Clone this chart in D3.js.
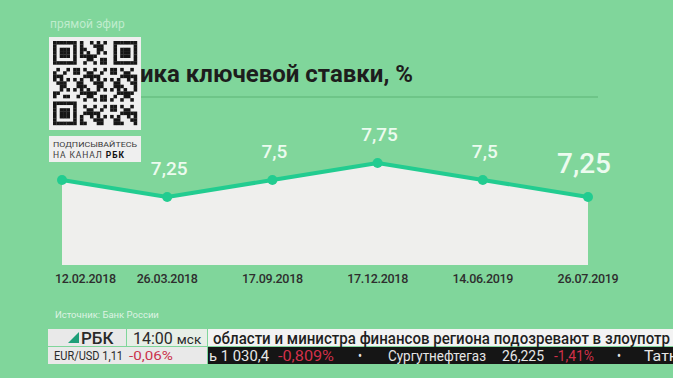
<!DOCTYPE html>
<html>
<head>
<meta charset="utf-8">
<script src="https://cdn.jsdelivr.net/npm/d3@7"></script>
<style>
  html, body { margin: 0; padding: 0; background: #80d69b; }
  svg { display: block; font-family: Roboto, "Noto Sans", sans-serif; }
</style>
</head>
<body>
<div id="chart"></div>
<script>
// --- Data ---
const dates = ["12.02.2018", "26.03.2018", "17.09.2018", "17.12.2018", "14.06.2019", "26.07.2019"];
const rates = [7.5, 7.25, 7.5, 7.75, 7.5, 7.25];
const rateLabels = ["7,5", "7,25", "7,5", "7,75", "7,5", "7,25"];

const title = "Динамика ключевой ставки, %";
const source = "Источник: Банк России";

// ticker strip (bottom of the broadcast frame)
const headline = "области и министра финансов региона подозревают в злоупотр";
const tickerItems = [
    { text: "ь 1 030,4", x: 209, w: 60, red: false },
    { text: "-0,809%", x: 278, w: 56, red: true },
    { text: "•", x: 358, w: 4, red: false },
    { text: "Сургутнефтегаз", x: 388, w: 98, red: false },
    { text: "26,225", x: 502, w: 42, red: false },
    { text: "-1,41%", x: 554, w: 40, red: true },
    { text: "•", x: 617, w: 4, red: false },
    { text: "Татн", x: 644, w: 34, red: false }
];

const width = 673, height = 378;
const bg = "#80d69b";

const svg = d3.select("#chart").append("svg")
    .attr("width", width)
    .attr("height", height);

svg.append("rect").attr("width", width).attr("height", height).attr("fill", bg);

// --- Scales ---
const x = d3.scalePoint().domain(dates).range([62, 588]);
const y = d3.scaleLinear().domain([7.25, 7.75]).range([197, 163]);
const baseY = 265;

// header
svg.append("text")
    .attr("x", 50).attr("y", 28)
    .attr("font-size", 12)
    .attr("fill", "#bfeccd")
    .text("прямой эфир");

svg.append("text")
    .attr("x", 413).attr("y", 82)
    .attr("text-anchor", "end")
    .attr("font-size", 24)
    .attr("font-weight", 700)
    .attr("fill", "#1d1d1d")
    .text(title);

svg.append("line")
    .attr("x1", 55).attr("x2", 598)
    .attr("y1", 97).attr("y2", 97)
    .attr("stroke", "#68bf82")
    .attr("stroke-width", 1.5);

// --- Area + line ---
const pts = dates.map((d, i) => ({ date: d, v: rates[i], label: rateLabels[i] }));

const area = d3.area()
    .x(d => x(d.date))
    .y0(baseY)
    .y1(d => y(d.v));

svg.append("path")
    .datum(pts)
    .attr("d", area)
    .attr("fill", "#efefed");

const line = d3.line()
    .x(d => x(d.date))
    .y(d => y(d.v));

svg.append("path")
    .datum(pts)
    .attr("d", line)
    .attr("fill", "none")
    .attr("stroke", "#22cc90")
    .attr("stroke-width", 4)
    .attr("stroke-linejoin", "round");

svg.selectAll(".dot")
    .data(pts)
    .enter().append("circle")
    .attr("class", "dot")
    .attr("cx", d => x(d.date))
    .attr("cy", d => y(d.v))
    .attr("r", 5)
    .attr("fill", "#22cc90");

// value labels (last one emphasized); the first sits under the QR card, so skip it
const last = pts.length - 1;
svg.selectAll(".val")
    .data(pts.slice(1))
    .enter().append("text")
    .attr("class", "val")
    .attr("x", (d, i) => x(d.date) + (i + 1 === last ? -4 : 2))
    .attr("y", (d, i) => y(d.v) - (i + 1 === last ? 24 : 22))
    .attr("text-anchor", "middle")
    .attr("font-size", (d, i) => i + 1 === last ? 28 : 19)
    .attr("font-weight", 500)
    .attr("fill", "#ecfbef")
    .text(d => d.label);

// date labels
svg.selectAll(".date")
    .data(dates)
    .enter().append("text")
    .attr("class", "date")
    .attr("x", (d, i) => i === 0 ? x(d) - 7 : x(d))
    .attr("y", 283)
    .attr("text-anchor", (d, i) => i === 0 ? "start" : "middle")
    .attr("font-size", 12.5)
    .attr("font-weight", 500)
    .attr("letter-spacing", -0.3)
    .attr("fill", "#2e2e2e")
    .text(d => d);

svg.append("text")
    .attr("x", 55).attr("y", 318)
    .attr("font-size", 9.5)
    .attr("fill", "#def3e3")
    .text(source);

// --- QR overlay ---
const qr = svg.append("g");
qr.append("rect").attr("x", 49).attr("y", 37).attr("width", 92).attr("height", 93).attr("fill", "#efefef");
const n = 25, m = 3.36, ox = 53, oy = 41;
function finder(r, c) {
    const inF = (r0, c0) => r >= r0 && r < r0 + 7 && c >= c0 && c < c0 + 7;
    const corners = [[0, 0], [0, n - 7], [n - 7, 0]];
    for (const [r0, c0] of corners) {
        if (inF(r0, c0)) {
            const rr = r - r0, cc = c - c0;
            return (rr === 0 || rr === 6 || cc === 0 || cc === 6 || (rr >= 2 && rr <= 4 && cc >= 2 && cc <= 4)) ? 1 : 0;
        }
        if (r >= r0 - 1 && r <= r0 + 7 && c >= c0 - 1 && c <= c0 + 7) return 0;
    }
    return -1;
}
const cells = [];
for (let r = 0; r < n; r++) {
    for (let c = 0; c < n; c++) {
        let f = finder(r, c);
        if (f === -1) f = ((r * 31 + c * 17 + r * c * 7) % 11) < 5 ? 1 : 0;
        if (f) cells.push([r, c]);
    }
}
qr.selectAll(".m").data(cells).enter().append("rect")
    .attr("x", d => ox + d[1] * m).attr("y", d => oy + d[0] * m)
    .attr("width", m + 0.2).attr("height", m + 0.2)
    .attr("fill", "#161616");

qr.append("rect").attr("x", 49).attr("y", 136).attr("width", 92).attr("height", 26).attr("fill", "#efefef");
qr.append("text").attr("x", 53).attr("y", 147)
    .attr("font-size", 8).attr("fill", "#3a3a3a")
    .attr("textLength", 84).attr("lengthAdjust", "spacingAndGlyphs")
    .text("ПОДПИСЫВАЙТЕСЬ");
const t2 = qr.append("text").attr("x", 53).attr("y", 158)
    .attr("font-size", 8.5).attr("fill", "#3a3a3a")
    .attr("letter-spacing", 0.9);
t2.append("tspan").text("НА КАНАЛ ");
t2.append("tspan").attr("font-weight", 700).attr("fill", "#111").text("РБК");

// --- Ticker ---
const tk = svg.append("g");
tk.append("rect").attr("x", 48).attr("y", 329).attr("width", 78).attr("height", 17).attr("fill", "#e9e9e9");
tk.append("path").attr("d", "M68,343L79,343L79,332Z").attr("fill", "#1e9f78");
tk.append("text").attr("x", 81).attr("y", 344).attr("font-size", 17).attr("font-weight", 500)
    .attr("fill", "#2a2a2a").text("РБК");

tk.append("rect").attr("x", 127).attr("y", 329).attr("width", 80).attr("height", 17).attr("fill", "#e7efe7");
const tm = tk.append("text").attr("x", 133).attr("y", 344).attr("fill", "#2a2a2a");
tm.append("tspan").attr("font-size", 16).text("14:00 ");
tm.append("tspan").attr("font-size", 13.5).text("мск");

tk.append("rect").attr("x", 208).attr("y", 329).attr("width", 465).attr("height", 17).attr("fill", "#f3f3f3");
tk.append("text").attr("x", 213).attr("y", 343.5).attr("font-size", 16).attr("font-weight", 500)
    .attr("fill", "#1f1f1f")
    .attr("textLength", 457).attr("lengthAdjust", "spacingAndGlyphs")
    .text(headline);

tk.append("rect").attr("x", 48).attr("y", 347).attr("width", 159).attr("height", 17).attr("fill", "#e9e9e9");
tk.append("text").attr("x", 54).attr("y", 360).attr("font-size", 12).attr("fill", "#2a2a2a")
    .attr("textLength", 69).attr("lengthAdjust", "spacingAndGlyphs").text("EUR/USD 1,11");
tk.append("text").attr("x", 129).attr("y", 360).attr("font-size", 12).attr("fill", "#c9344c")
    .attr("textLength", 44).attr("lengthAdjust", "spacingAndGlyphs").text("-0,06%");

tk.append("rect").attr("x", 208).attr("y", 347).attr("width", 465).attr("height", 17).attr("fill", "#151515");
tk.selectAll(".tick-item").data(tickerItems).enter().append("text")
    .attr("x", d => d.x).attr("y", 361)
    .attr("font-size", 14)
    .attr("fill", d => d.red ? "#d2304a" : "#e6e6e6")
    .attr("textLength", d => d.w).attr("lengthAdjust", "spacingAndGlyphs")
    .text(d => d.text);
</script>
</body>
</html>
